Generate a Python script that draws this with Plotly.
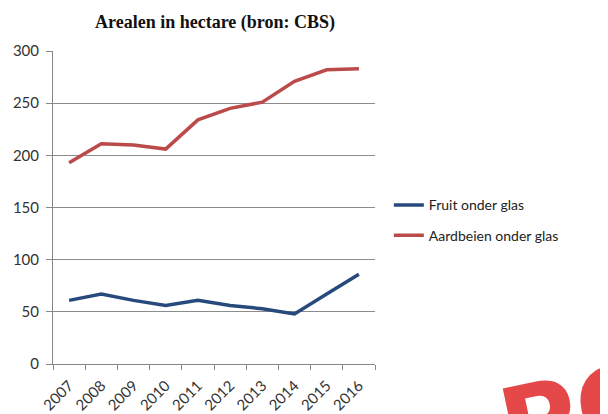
import plotly.graph_objects as go

years = ["2007", "2008", "2009", "2010", "2011", "2012", "2013", "2014", "2015", "2016"]
fruit = [61, 67, 61, 56, 61, 56, 53, 48, 67, 86]
aardbeien = [193, 211, 210, 206, 234, 245, 251, 271, 282, 283]
y_ticks = [0, 50, 100, 150, 200, 250, 300]

fig = go.Figure()
fig.add_trace(go.Scatter(x=years, y=fruit, mode="lines", name="Fruit onder glas",
                         legendgroup="a", line=dict(color="#274a7d", width=3.5)))
fig.add_trace(go.Scatter(x=years, y=aardbeien, mode="lines", name="Aardbeien onder glas",
                         legendgroup="b", line=dict(color="#bb4a4b", width=3.5)))

fig.update_layout(
    width=600, height=406,
    margin=dict(l=45, r=233, t=43, b=50, autoexpand=False),
    paper_bgcolor="white", plot_bgcolor="white",
    title=dict(text="<b>Arealen in hectare (bron: CBS)</b>", x=207/600, xanchor="center",
               y=1 - 14/406, yanchor="middle",
               font=dict(family="Liberation Serif", size=18, color="#111")),
    font=dict(family="Lato", size=14, color="#333"),
    legend=dict(x=1.043, xanchor="left", y=0.558, yanchor="top",
                tracegroupgap=9, font=dict(family="Lato", size=14, color="#222"),
                bgcolor="rgba(0,0,0,0)"),
    showlegend=True,
)
fig.update_xaxes(type="category", range=[-0.5, 9.5], automargin=False, tickangle=-45,
                 showline=True, linecolor="#888", linewidth=1,
                 ticks="outside", ticklen=5, tickcolor="#888", tickson="boundaries",
                 ticklabelstandoff=6,
                 showgrid=False, tickfont=dict(family="Lato", size=15, color="#333"))
fig.update_yaxes(range=[0, 300], automargin=False, tickvals=y_ticks, showline=True,
                 linecolor="#888", linewidth=1, ticklabelstandoff=4,
                 ticks="outside", ticklen=6, tickcolor="#888", showgrid=True, gridcolor="#8c8c8c",
                 gridwidth=1, zeroline=False, tickfont=dict(family="Lato", size=15, color="#333"))

fig.add_annotation(text="<b>PO</b>", xref="paper", yref="paper", x=(575-45)/322, y=(356-405)/313,
                   showarrow=False, textangle=-12, xanchor="center", yanchor="middle",
                   font=dict(family="DejaVu Sans", size=105, color="#e44848"))

fig.write_html("out.html")
